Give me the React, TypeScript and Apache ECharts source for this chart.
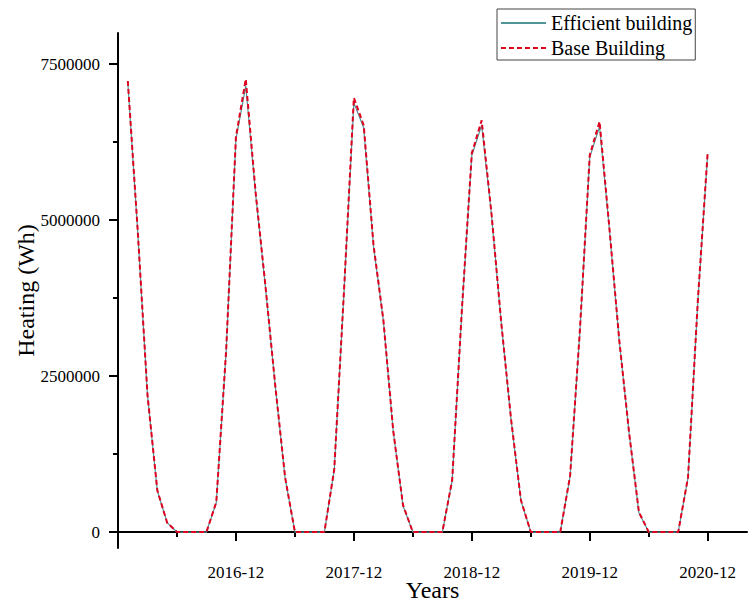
import React, { useEffect, useRef } from "react";
import * as echarts from "echarts";

// Months 2016-01 .. 2020-12 (x position = month index counted from 2015-12)
const years = [2016, 2017, 2018, 2019, 2020];
const monthNames = ["01", "02", "03", "04", "05", "06", "07", "08", "09", "10", "11", "12"];
const months: string[] = years.flatMap((y) => monthNames.map((m) => `${y}-${m}`));

// Heating demand (Wh)
const baseBuilding = [
  7230000, 4850000, 2200000, 670000, 150000, 0, 0, 0, 0, 480000, 2900000, 6330000,
  7260000, 5450000, 3950000, 2350000, 880000, 0, 0, 0, 0, 1000000, 3880000, 6960000,
  6520000, 4600000, 3400000, 1630000, 430000, 0, 0, 0, 0, 830000, 3590000, 6070000,
  6600000, 5110000, 3350000, 1800000, 510000, 0, 0, 0, 0, 900000, 3240000, 6040000,
  6580000, 4870000, 3080000, 1600000, 320000, 0, 0, 0, 0, 880000, 3720000, 6090000,
];
const efficientBuilding = [
  7200000, 4830000, 2190000, 660000, 150000, 0, 0, 0, 0, 470000, 2880000, 6300000,
  7150000, 5420000, 3930000, 2340000, 870000, 0, 0, 0, 0, 990000, 3860000, 6880000,
  6480000, 4580000, 3390000, 1620000, 420000, 0, 0, 0, 0, 820000, 3570000, 6040000,
  6520000, 5090000, 3340000, 1790000, 500000, 0, 0, 0, 0, 890000, 3220000, 6010000,
  6500000, 4850000, 3070000, 1590000, 310000, 0, 0, 0, 0, 870000, 3700000, 6060000,
];

const xTickValues = [12, 24, 36, 48, 60];
const xTickLabels = ["2016-12", "2017-12", "2018-12", "2019-12", "2020-12"];
const xMinorTickValues = [6, 18, 30, 42, 54];
const yTickValues = [0, 2500000, 5000000, 7500000];
const yTickLabels = ["0", "2500000", "5000000", "7500000"];
const yMinorTickValues = [1250000, 3750000, 6250000];

const FONT = "'Liberation Serif', 'Times New Roman', serif";

export default function App() {
  const ref = useRef<HTMLDivElement>(null);
  useEffect(() => {
    if (!ref.current) return;
    const chart = echarts.init(ref.current, undefined, { renderer: "svg" });
    const xMin = 0;
    const xMax = 64;
    const yMin = -256000;
    const yMax = 8000000;
    const toPairs = (arr: number[]) => arr.map((v, i) => [i + 1, v]);
    const axisLine = { show: true, lineStyle: { color: "#000", width: 2 } };
    chart.setOption({
      animation: false,
      backgroundColor: "#fff",
      grid: { left: 118, right: 3, top: 33, bottom: 57, outerBoundsMode: "none" },
      legend: {
        orient: "vertical",
        left: 497,
        top: 9,
        itemWidth: 45,
        itemHeight: 14,
        itemGap: 5,
        padding: [4, 3, 2, 3],
        borderColor: "#444",
        borderWidth: 1,
        itemStyle: { opacity: 0 },
        textStyle: { fontFamily: FONT, fontSize: 20, color: "#000" },
        data: ["Efficient building", "Base Building"],
      },
      xAxis: [
        {
          type: "value",
          min: xMin,
          max: xMax,
          position: "bottom",
          name: "Years",
          nameLocation: "middle",
          nameGap: 30,
          nameMoveOverlap: false,
          nameTextStyle: { fontFamily: FONT, fontSize: 24, color: "#000" },
          axisLine,
          splitLine: { show: false },
          axisTick: {
            show: true,
            length: 9,
            lineStyle: { color: "#000", width: 2 },
            customValues: xTickValues,
          },
          axisLabel: {
            show: true,
            margin: 16,
            fontFamily: FONT,
            fontSize: 17,
            color: "#000",
            customValues: xTickValues,
            formatter: (v: number) => {
              const k = xTickValues.indexOf(v);
              return k >= 0 ? xTickLabels[k] : "";
            },
          },
        },
        {
          type: "value",
          min: xMin,
          max: xMax,
          position: "bottom",
          axisLine: { show: false },
          splitLine: { show: false },
          axisTick: {
            show: true,
            length: 5,
            lineStyle: { color: "#000", width: 2 },
            customValues: xMinorTickValues,
          },
          axisLabel: { show: false },
        },
      ],
      yAxis: [
        {
          type: "value",
          min: yMin,
          max: yMax,
          position: "left",
          name: "Heating (Wh)",
          nameLocation: "middle",
          nameGap: 80,
          nameMoveOverlap: false,
          nameTextStyle: { fontFamily: FONT, fontSize: 24, color: "#000" },
          axisLine,
          splitLine: { show: false },
          axisTick: {
            show: true,
            length: 9,
            lineStyle: { color: "#000", width: 2 },
            customValues: yTickValues,
          },
          axisLabel: {
            show: true,
            margin: 18,
            fontFamily: FONT,
            fontSize: 17,
            color: "#000",
            customValues: yTickValues,
            formatter: (v: number) => {
              const k = yTickValues.indexOf(v);
              return k >= 0 ? yTickLabels[k] : "";
            },
          },
        },
        {
          type: "value",
          min: yMin,
          max: yMax,
          position: "left",
          axisLine: { show: false },
          splitLine: { show: false },
          axisTick: {
            show: true,
            length: 5,
            lineStyle: { color: "#000", width: 2 },
            customValues: yMinorTickValues,
          },
          axisLabel: { show: false },
        },
      ],
      series: [
        {
          name: "Efficient building",
          type: "line",
          xAxisIndex: 0,
          yAxisIndex: 0,
          symbol: "none",
          data: toPairs(efficientBuilding),
          lineStyle: { color: "#4f9497", width: 1.2 },
          itemStyle: { color: "#4f9497" },
        },
        {
          name: "Base Building",
          type: "line",
          xAxisIndex: 0,
          yAxisIndex: 0,
          symbol: "none",
          data: toPairs(baseBuilding),
          lineStyle: { color: "#e0001e", width: 2, type: [5, 3] },
          itemStyle: { color: "#e0001e" },
        },
      ],
    });
    return () => chart.dispose();
  }, []);
  return (
    <div
      ref={ref}
      data-months={months.length}
      style={{ position: "fixed", left: 0, top: 0, width: 750, height: 605, background: "#fff" }}
    />
  );
}
